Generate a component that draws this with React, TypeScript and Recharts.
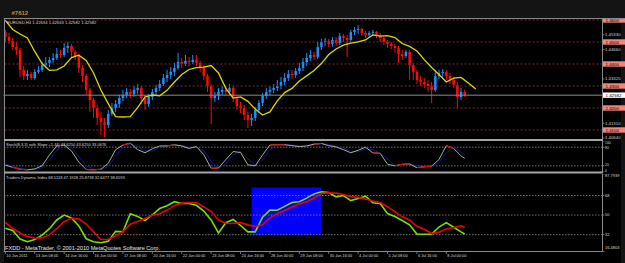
import React from "react";
import {
  ComposedChart,
  LineChart,
  Bar,
  Line,
  XAxis,
  YAxis,
  ReferenceLine,
  ReferenceArea,
} from "recharts";

// EURUSD H4, 10 Jun 2011 .. 8 Jul 2011 (126 bars), chart shifted right
const SLOTS = 163;
const FIRST_OPEN = 1.4545;

const closes = [
  1.4523, 1.4505, 1.4477, 1.4464, 1.4373, 1.4345, 1.4355, 1.4336, 1.4364, 1.4373,
  1.4395, 1.4405, 1.4418, 1.4427, 1.4445, 1.4441, 1.4473, 1.4482, 1.4455, 1.4436,
  1.4382, 1.4345, 1.4282, 1.4236, 1.42, 1.4155, 1.4136, 1.4123, 1.4173, 1.42,
  1.4218, 1.4245, 1.4259, 1.4273, 1.4264, 1.4282, 1.4291, 1.4245, 1.4218, 1.425,
  1.4273, 1.4291, 1.4309, 1.4336, 1.435, 1.4364, 1.4382, 1.4409, 1.44, 1.4414,
  1.4409, 1.4418, 1.4405, 1.4382, 1.4345, 1.43, 1.4245, 1.4255, 1.4273, 1.4282,
  1.4273, 1.4291, 1.4245, 1.4209, 1.42, 1.4168, 1.4145, 1.4155, 1.4191, 1.4223,
  1.4255, 1.4273, 1.4282, 1.4291, 1.43, 1.4318, 1.4336, 1.4355, 1.435, 1.4368,
  1.4382, 1.4409, 1.4427, 1.4441, 1.4432, 1.4477, 1.45, 1.4505, 1.4491, 1.4509,
  1.4495, 1.4527, 1.4518, 1.4509, 1.4545, 1.4555, 1.4559, 1.4541, 1.4532, 1.4541,
  1.4545, 1.4532, 1.4518, 1.45, 1.4491, 1.4482, 1.4473, 1.4445, 1.4436, 1.4455,
  1.4395, 1.4364, 1.4327, 1.4318, 1.4309, 1.43, 1.4282, 1.4345, 1.4359, 1.4364,
  1.4345, 1.4327, 1.4305, 1.425, 1.4273, 1.42582,
];

const highs = [
  1.4555, 1.4541, 1.4518, 1.45, 1.4473, 1.4391, 1.4373, 1.4364, 1.4377, 1.4391,
  1.4409, 1.4432, 1.4432, 1.445, 1.4473, 1.4464, 1.4495, 1.45, 1.4491, 1.4464,
  1.4445, 1.4395, 1.4355, 1.4291, 1.4245, 1.4214, 1.4182, 1.4155, 1.4191, 1.4223,
  1.4236, 1.4259, 1.4282, 1.4291, 1.4286, 1.43, 1.4309, 1.43, 1.4259, 1.4264,
  1.4286, 1.4305, 1.4327, 1.4355, 1.4373, 1.4386, 1.4405, 1.445, 1.4427, 1.4441,
  1.4432, 1.4441, 1.4441, 1.4414, 1.4395, 1.4355, 1.4309, 1.4273, 1.4291, 1.43,
  1.4295, 1.4309, 1.43, 1.4259, 1.4227, 1.4214, 1.4182, 1.4173, 1.4205, 1.4236,
  1.4268, 1.4291, 1.43, 1.4309, 1.4327, 1.4341, 1.4359, 1.4373, 1.4373, 1.4382,
  1.4405, 1.4427, 1.445, 1.4464, 1.4455, 1.45, 1.4514, 1.4518, 1.4514, 1.4523,
  1.4523, 1.4541, 1.4536, 1.4532, 1.4555, 1.4568, 1.4577, 1.4564, 1.455, 1.455,
  1.4555, 1.455, 1.4541, 1.4527, 1.4509, 1.45, 1.4491, 1.4482, 1.4464, 1.4464,
  1.4464, 1.4405, 1.4373, 1.4345, 1.4336, 1.4327, 1.4318, 1.4373, 1.4373, 1.4377,
  1.4373, 1.4359, 1.4341, 1.4318, 1.4291, 1.4282,
];

const lows = [
  1.45, 1.4491, 1.4464, 1.4441, 1.4341, 1.4327, 1.4327, 1.4327, 1.4327, 1.4355,
  1.4364, 1.4382, 1.4386, 1.4405, 1.4418, 1.4427, 1.4432, 1.445, 1.4427, 1.4418,
  1.4359, 1.4318, 1.4259, 1.4182, 1.4155, 1.4123, 1.4077, 1.4068, 1.4109, 1.4164,
  1.4182, 1.42, 1.4232, 1.4245, 1.4245, 1.425, 1.4264, 1.4218, 1.4191, 1.4205,
  1.4236, 1.4259, 1.4277, 1.43, 1.4318, 1.4332, 1.4345, 1.4373, 1.4382, 1.4391,
  1.4391, 1.44, 1.4391, 1.4364, 1.4327, 1.4273, 1.4127, 1.4227, 1.4236, 1.4259,
  1.4255, 1.4259, 1.4227, 1.4191, 1.4177, 1.4145, 1.4109, 1.4118, 1.4141, 1.4177,
  1.4209, 1.4241, 1.4259, 1.4268, 1.4277, 1.4286, 1.4305, 1.4323, 1.4332, 1.4336,
  1.4355, 1.4368, 1.4391, 1.4414, 1.4418, 1.4423, 1.4464, 1.4482, 1.4477, 1.4477,
  1.4482, 1.4486, 1.45, 1.4432, 1.45, 1.4532, 1.4536, 1.4527, 1.4518, 1.4523,
  1.4527, 1.4518, 1.45, 1.4486, 1.4473, 1.4468, 1.445, 1.4405, 1.4418, 1.4427,
  1.4327, 1.4327, 1.4309, 1.43, 1.4291, 1.4273, 1.4223, 1.4273, 1.4332, 1.4341,
  1.4327, 1.4309, 1.4291, 1.42, 1.4236, 1.425,
];

// yellow moving average, one value every 2nd bar (bars 0..128)
const maLine = [
  1.4598, 1.4557, 1.4536, 1.4518, 1.4457, 1.4402, 1.4371, 1.4373, 1.4391, 1.4429,
  1.444, 1.4416, 1.4359, 1.4282, 1.422, 1.4161, 1.4159, 1.4161, 1.4202, 1.425,
  1.4259, 1.4255, 1.428, 1.4318, 1.4352, 1.4375, 1.4383, 1.4386, 1.4393, 1.4359,
  1.4289, 1.4245, 1.425, 1.423, 1.4195, 1.4168, 1.4182, 1.4232, 1.427, 1.4289,
  1.4323, 1.4346, 1.437, 1.4402, 1.4443, 1.4468, 1.4486, 1.4495, 1.45, 1.4509,
  1.4532, 1.4527, 1.4529, 1.452, 1.4493, 1.448, 1.4459, 1.442, 1.4384, 1.4352,
  1.4318, 1.4336, 1.4339, 1.4314, 1.4286,
];

// oscillators: bars 0,2,4..124 and the last bar 125
const stochMain = [
  22, 15, 9, 7, 10, 20, 55, 84, 87, 68, 32, 8, 7, 9, 28, 72, 87, 93, 72, 62,
  75, 84, 84, 88, 84, 76, 82, 56, 12, 13, 40, 66, 63, 23, 20, 55, 87, 88, 88, 85,
  82, 84, 90, 92, 85, 81, 72, 62, 70, 80, 62, 60, 25, 20, 25, 26, 14, 17, 19, 40,
  85, 76, 52, 44,
];
const stochSignal = [
  26, 19, 12, 8, 8, 14, 38, 70, 86, 78, 50, 20, 9, 8, 18, 50, 80, 90, 82, 67,
  68, 80, 84, 86, 86, 80, 79, 70, 34, 12, 26, 55, 66, 42, 22, 38, 72, 88, 88, 87,
  84, 83, 87, 91, 89, 83, 77, 67, 65, 75, 72, 61, 42, 22, 22, 25, 20, 15, 18, 30,
  62, 80, 64, 56,
];
// bar spans where the stochastic slope is flat (drawn red)
const stochFlat = [
  [2, 6], [14, 16], [22, 26], [32, 34], [44, 46], [56, 58], [72, 76], [84, 86],
  [100, 102], [106, 110], [112, 116], [120, 122],
];

const tdiPrice = [
  37.8, 35.8, 28, 25.5, 27.6, 31.5, 37.5, 45.5, 50, 47.4,
  40, 28.2, 25.5, 24.6, 26, 35, 34.5, 51.3, 48.8, 45,
  50.3, 56, 58.6, 62.3, 60.6, 60.6, 59, 53.7, 45.5, 33.5,
  43, 46, 40.4, 34.5, 34.5, 48, 54.6, 54.5, 58, 61.5,
  62.3, 65.6, 69.5, 71.4, 70.8, 66.8, 68, 63.3, 65.3, 67.4,
  61.3, 60.6, 51.4, 48.7, 45, 41, 32.5, 32.4, 32.5, 39,
  43, 38.8, 34.5, 32.6,
];
const tdiSignal = [
  43.3, 37.6, 33.5, 30.4, 28.7, 29, 32, 37.6, 44, 47,
  46.5, 41.8, 34.5, 27.5, 27.7, 30.7, 34.8, 41.6, 44, 46.9,
  49.8, 51.2, 54.6, 58.7, 61, 61.5, 61.5, 57.5, 53.5, 45.5,
  42.5, 42.3, 43, 41, 39.5, 41, 47.5, 51.3, 54.3, 57.5,
  60.1, 62.3, 65.7, 69.9, 70.6, 70.2, 69, 67, 66.3, 64.7,
  62.9, 61.5, 57.7, 53.1, 48.4, 45.5, 39.7, 37, 33, 34.2,
  37.2, 38.6, 40.1, 38.7,
];

const timeTicks = [0, 8, 16, 24, 32, 40, 48, 56, 64, 72, 80, 88, 96, 104, 112, 120];
const timeLabels = [
  "10 Jun 2011", "13 Jun 08:00", "14 Jun 16:00", "16 Jun 00:00", "17 Jun 08:00",
  "20 Jun 16:00", "22 Jun 00:00", "23 Jun 08:00", "24 Jun 16:00", "28 Jun 00:00",
  "29 Jun 08:00", "30 Jun 16:00", "4 Jul 00:00", "5 Jul 08:00", "6 Jul 16:00",
  "8 Jul 00:00",
];

const priceLevels = [1.46, 1.45, 1.44, 1.43, 1.42, 1.41];
const priceTicks = [1.4064, 1.4131, 1.4332, 1.4466, 1.4533];
const BID = 1.42582;
const box = { from: 67, to: 86, low: 32, high: 75.4 };

const FONT = "'Liberation Sans', Arial, sans-serif";
const AXIS = "#8a8a8a";
const TXT = "#d8d8d8";
const BULL = "#1e8fff";
const BEAR = "#ff0a0a";
const SALMON = "#f0857a";

const oscBar = (k: number) => (k < 63 ? k * 2 : 125);

const candleRows = Array.from({ length: SLOTS }, (_, i) => {
  const row: any = { i };
  if (i < closes.length) {
    row.open = i === 0 ? FIRST_OPEN : closes[i - 1];
    row.close = closes[i];
    row.high = highs[i];
    row.low = lows[i];
    row.range = [lows[i], highs[i]];
  }
  if (i % 2 === 0 && i / 2 < maLine.length) row.ma = maLine[i / 2];
  return row;
});

const stochRows = stochMain.map((v, k) => ({ i: oscBar(k), main: v, signal: stochSignal[k] }));
const stochRedRows: any[] = [];
stochFlat.forEach(([a, b]) => {
  for (let bar = a; bar <= b; bar += 2) stochRedRows.push({ i: bar, red: stochMain[bar / 2] });
  stochRedRows.push({ i: b + 1, red: null });
});

const tdiRows = tdiPrice.map((v, k) => ({ i: oscBar(k), price: v, signal: tdiSignal[k] }));

function Candle(props: any) {
  const { x, y, width, height, payload } = props;
  if (!payload || payload.open == null || !isFinite(y)) return null;
  const { open, close, high, low } = payload;
  const top = Math.min(y, y + height);
  const h = Math.abs(height);
  const py = (v: number) => top + ((high - v) / (high - low)) * h;
  const cx = x + width / 2;
  const color = close >= open ? BULL : BEAR;
  const yo = py(open);
  const yc = py(close);
  return (
    <g>
      <line x1={cx} x2={cx} y1={top} y2={top + h} stroke={color} strokeWidth={1} />
      <rect x={cx - 1.25} y={Math.min(yo, yc)} width={2.5} height={Math.max(Math.abs(yo - yc), 1)} fill={color} />
    </g>
  );
}

function PriceTick(props: any) {
  const { x, y, payload } = props;
  const v = payload.value;
  if (v === BID || priceLevels.includes(v)) {
    return (
      <g>
        <rect x={x + 0.5} y={y - 2.7} width={24} height={5.4} fill={v === BID ? "#ffffff" : SALMON} />
        <text x={x + 3} y={y + 1.6} fontSize={4.4} fill="#000" fontFamily={FONT}>
          {v === BID ? v.toFixed(5) : v.toFixed(4)}
        </text>
      </g>
    );
  }
  return (
    <g>
      <line x1={x} x2={x + 2} y1={y} y2={y} stroke={AXIS} strokeWidth={0.8} />
      <text x={x + 2.5} y={y + 1.5} fontSize={4.3} fill={TXT} fontFamily={FONT}>
        {v.toFixed(5)}
      </text>
    </g>
  );
}

// label offsets keep the extreme values inside their panel
function makeLevelTick(shift: Record<string, number>, size: number) {
  return function LevelTick(props: any) {
    const { x, y, payload } = props;
    const v = payload.value;
    const dy = shift[String(v)] ?? 1.4;
    const text = Number.isInteger(v) ? String(v) : v.toFixed(4);
    return (
      <g>
        <line x1={x} x2={x + 2} y1={y} y2={y} stroke={AXIS} strokeWidth={0.8} />
        <text x={x + 2.5} y={y + dy} fontSize={size} fill={TXT} fontFamily={FONT}>
          {text}
        </text>
      </g>
    );
  };
}

function TimeTick(props: any) {
  const { x, y, payload } = props;
  const idx = timeTicks.indexOf(payload.value);
  return (
    <g>
      <line x1={x} x2={x} y1={y} y2={y + 2.5} stroke={AXIS} strokeWidth={0.8} />
      <text x={x + 1} y={y + 5.8} fontSize={3.9} fill={TXT} fontFamily={FONT}>
        {timeLabels[idx]}
      </text>
    </g>
  );
}

const StochTick = makeLevelTick({ "100": 2.6, "80": 1.6, "20": 0.2, "0": -0.4 }, 3.4);
const TdiTick = makeLevelTick({ "87.7939": 3, "16.4803": -2.5 }, 4);

const margin = { top: 0, right: 0, bottom: 0, left: 3.5 };

export default function App() {
  return (
    <div style={{ position: "absolute", left: 0, top: 0, width: 625, height: 263, background: "#141414", overflow: "hidden" }}>
      <div style={{ position: "absolute", left: 4, top: 18, width: 617, height: 245, background: "#000" }} />

      <div style={{ position: "absolute", left: 0, top: 18 }}>
        <ComposedChart width={625} height={121} data={candleRows} margin={margin}>
          <XAxis dataKey="i" type="category" hide />
          <YAxis
            orientation="right"
            type="number"
            domain={[1.4059, 1.4609]}
            allowDataOverflow
            ticks={[...priceTicks, ...priceLevels, BID]}
            interval={0}
            tick={<PriceTick />}
            tickSize={0}
            tickMargin={0}
            tickLine={false}
            axisLine={{ stroke: AXIS }}
            width={22.5}
          />
          {priceLevels.map((p) => (
            <ReferenceLine key={p} y={p} stroke="#7a2c2c" strokeDasharray="2 2" />
          ))}
          <ReferenceLine y={BID} stroke="#8c8c8c" />
          <Bar dataKey="range" shape={<Candle />} isAnimationActive={false} />
          <Line dataKey="ma" stroke="#dcd800" strokeWidth={1.3} dot={false} connectNulls isAnimationActive={false} />
        </ComposedChart>
      </div>

      <div style={{ position: "absolute", left: 0, top: 141 }}>
        <LineChart width={625} height={31} data={stochRows} margin={margin}>
          <XAxis dataKey="i" type="number" domain={[-0.5, SLOTS - 0.5]} allowDataOverflow hide />
          <YAxis
            orientation="right"
            domain={[0, 100]}
            allowDataOverflow
            ticks={[0, 20, 80, 100]}
            interval={0}
            tick={<StochTick />}
            tickSize={0}
            tickMargin={0}
            tickLine={false}
            axisLine={{ stroke: AXIS }}
            width={22.5}
          />
          <ReferenceLine y={80} stroke="#6e6e6e" strokeDasharray="1.5 1.5" />
          <ReferenceLine y={20} stroke="#6e6e6e" strokeDasharray="1.5 1.5" />
          <Line dataKey="signal" stroke="#16168a" strokeWidth={1} dot={false} isAnimationActive={false} />
          <Line dataKey="main" stroke="#9fb494" strokeWidth={1} dot={false} isAnimationActive={false} />
          <Line data={stochRedRows} dataKey="red" stroke="#e00000" strokeWidth={1.1} dot={false} isAnimationActive={false} />
        </LineChart>
      </div>

      <div style={{ position: "absolute", left: 0, top: 173.5 }}>
        <ComposedChart width={625} height={89.5} data={tdiRows} margin={margin}>
          <XAxis
            dataKey="i"
            type="number"
            domain={[-0.5, SLOTS - 0.5]}
            allowDataOverflow
            ticks={timeTicks}
            interval={0}
            tick={<TimeTick />}
            tickSize={0}
            tickMargin={0}
            tickLine={false}
            axisLine={{ stroke: AXIS }}
            height={12}
          />
          <YAxis
            orientation="right"
            domain={[16.4803, 87.7939]}
            allowDataOverflow
            ticks={[16.4803, 32, 50, 68, 87.7939]}
            interval={0}
            tick={<TdiTick />}
            tickSize={0}
            tickMargin={0}
            tickLine={false}
            axisLine={{ stroke: AXIS }}
            width={22.5}
          />
          {[68, 50, 32].map((v) => (
            <ReferenceLine key={v} y={v} stroke="#6e6e6e" strokeDasharray="1.5 1.5" />
          ))}
          <ReferenceArea x1={box.from} x2={box.to} y1={box.low} y2={box.high} fill="#0000ff" fillOpacity={1} stroke="none" />
          <Line dataKey="price" stroke="#7edc00" strokeWidth={1.6} dot={false} isAnimationActive={false} />
          <Line dataKey="signal" stroke="#ee0000" strokeWidth={1.6} dot={false} isAnimationActive={false} />
        </ComposedChart>
      </div>

      <svg width={625} height={263} style={{ position: "absolute", left: 0, top: 0, pointerEvents: "none" }}>
        <line x1={4} x2={625} y1={18.5} y2={18.5} stroke="#8a8a8a" />
        <line x1={4.5} x2={4.5} y1={18} y2={251} stroke="#8a8a8a" />
        <rect x={4} y={139} width={599} height={2} fill="#a4a4a4" />
        <rect x={4} y={171.5} width={599} height={2} fill="#a4a4a4" />
        <text x={11.5} y={14.5} fontSize={6} fontWeight="bold" fill="#c9862c" fontFamily={FONT}>#7612</text>
        <text x={7} y={23.5} fontSize={4.2} fill={TXT} fontFamily={FONT}>EURUSD,H4  1.42634 1.42663 1.42582 1.42582</text>
        <text x={6} y={146} fontSize={4} fill={TXT} fontFamily={FONT}>Stoch(8,3,3) with Slope +1.44| 43.6250 43.6250 33.0676</text>
        <text x={6} y={178.5} fontSize={4} fill={TXT} fontFamily={FONT}>Traders Dynamic Index 68.5118 47.1928 25.8738 32.6477 38.6593</text>
        <text x={5} y={250} fontSize={5.6} fill="#e8e8e8" fontFamily={FONT}>FXDD - MetaTrader, © 2001-2010 MetaQuotes Software Corp.</text>
      </svg>
    </div>
  );
}
